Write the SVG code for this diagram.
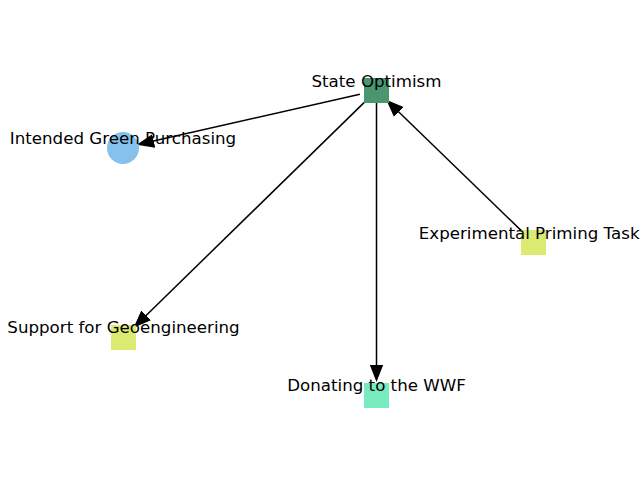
<svg xmlns="http://www.w3.org/2000/svg" width="640" height="480" viewBox="0 0 640 480">
<style>
.e{stroke:#000;stroke-width:1.5;fill:none;marker-end:url(#ah)}
.l{font-family:"DejaVu Sans",sans-serif;font-size:16.67px;fill:#000;text-anchor:middle}
</style>
<defs>
<marker id="ah" markerUnits="userSpaceOnUse" markerWidth="20" markerHeight="20" viewBox="0 -7 16 14" refX="2" refY="0" orient="auto">
<path d="M0,-5.5 L14,0 L0,5.5 Z" fill="#000"/>
</marker>
</defs>
<rect width="640" height="480" fill="#fff"/>
<g id="edges">
<line class="e" x1="359.9" y1="94.3" x2="151.3" y2="141.5"/>
<line class="e" x1="364.3" y1="102.4" x2="144.3" y2="317.2"/>
<line class="e" x1="376.5" y1="103" x2="376.5" y2="367"/>
<line class="e" x1="521" y1="230.4" x2="397" y2="110.3"/>
</g>
<g id="n-state">
<rect x="364" y="78" width="25" height="25" fill="#4a9670"/>
</g>
<g id="n-intended">
<circle cx="123" cy="148" r="16" fill="#85c1ea"/>
</g>
<g id="n-exp">
<rect x="521" y="230" width="25" height="25" fill="#dbeb72"/>
</g>
<g id="n-support">
<rect x="111" y="325" width="25" height="25" fill="#dbeb72"/>
</g>
<g id="n-donating">
<rect x="364" y="383" width="25" height="25" fill="#78ebbe"/>
</g>
<g id="labels">
<text class="l" x="376.5" y="86.5">State Optimism</text>
<text class="l" x="123" y="144">Intended Green Purchasing</text>
<text class="l" x="533.5" y="238.5">Experimental Priming Tasks</text>
<text class="l" x="123.5" y="333">Support for Geoengineering</text>
<text class="l" x="376.5" y="391">Donating to the WWF</text>
</g>
</svg>
